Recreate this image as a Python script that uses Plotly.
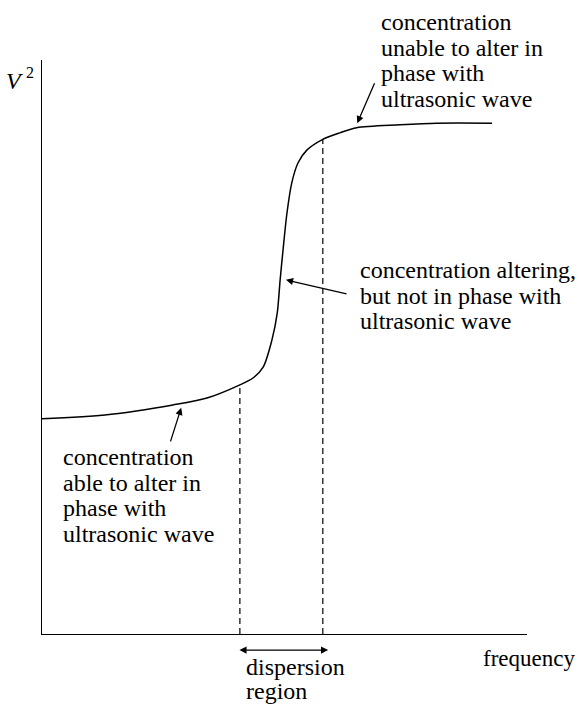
import plotly.graph_objects as go

# curve (frequency vs V^2, arbitrary units 0-100)
freq = [0, 13.4, 27.0, 34.0, 40.8, 43.5, 45.6, 47.4, 48.5, 49.1, 49.7, 50.5,
        51.5, 52.8, 54.6, 57.7, 61.4, 64.9, 73.8, 81.4, 92.8]
v_sq = [37.5, 38.2, 39.9, 41.1, 43.4, 44.6, 46.5, 51.2, 55.9, 61.7, 66.9, 73.3,
        78.6, 82.1, 84.3, 86.1, 87.3, 88.2, 88.7, 89.0, 89.0]

# edges of the dispersion region
disp_low = 40.8
disp_high = 57.9

label_font = "Liberation Serif, Times New Roman, serif"

top_lines = ["concentration", "unable to alter in", "phase with", "ultrasonic wave"]
mid_lines = ["concentration altering,", "but not in phase with", "ultrasonic wave"]
low_lines = ["concentration", "able to alter in", "phase with", "ultrasonic wave"]

# plot area in pixels
PLOT_W = 485
PLOT_H = 574


def curve_at(x):
    for i in range(len(freq) - 1):
        if freq[i] <= x <= freq[i + 1]:
            t = (x - freq[i]) / (freq[i + 1] - freq[i])
            return v_sq[i] + t * (v_sq[i + 1] - v_sq[i])
    return v_sq[-1]


def add_label(fig, text, x, y, anchor="left", size=24):
    # x, y in the same 0-100 units as the axes, but paper-referenced so
    # labels outside the plot area are still drawn
    fig.add_annotation(x=x / 100, y=y / 100, xref="paper", yref="paper",
                       text=text, showarrow=False, xanchor=anchor,
                       yanchor="middle",
                       font=dict(size=size, color="black", family=label_font))


def add_text_block(fig, lines, x, y_top, step=4.45):
    for i, line in enumerate(lines):
        add_label(fig, line, x, y_top - i * step)


def add_pointer(fig, tip, tail, both=False):
    fig.add_annotation(x=tip[0] / 100, y=tip[1] / 100, xref="paper", yref="paper",
                       ax=(tail[0] - tip[0]) / 100 * PLOT_W,
                       ay=-(tail[1] - tip[1]) / 100 * PLOT_H,
                       axref="pixel", ayref="pixel", text="", showarrow=True,
                       arrowhead=2, startarrowhead=2,
                       arrowside="end+start" if both else "end",
                       arrowsize=1.1, arrowwidth=1.3, arrowcolor="black")


fig = go.Figure()
fig.add_trace(go.Scatter(x=freq, y=v_sq, mode="lines",
                         line=dict(color="black", width=1.5, shape="spline",
                                   smoothing=0.8)))
for xd in [disp_low, disp_high]:
    fig.add_trace(go.Scatter(x=[xd, xd], y=[0, curve_at(xd)], mode="lines",
                             line=dict(color="black", width=1.2,
                                       dash="6px,4px")))

add_text_block(fig, top_lines, 69.5, 106.6)
add_text_block(fig, mid_lines, 65.2, 63.4)
add_text_block(fig, low_lines, 4.0, 30.8)

add_pointer(fig, (65.0, 89.0), (68.7, 96.2))
add_pointer(fig, (50.3, 61.7), (63.1, 59.2))
add_pointer(fig, (28.7, 39.4), (26.4, 33.3))

# double-headed arrow under the dispersion region
add_pointer(fig, (59.0, -2.8), (40.4, -2.8), both=True)
add_label(fig, "dispersion", 41.7, -5.8)
add_label(fig, "region", 41.7, -9.9)
add_label(fig, "frequency", 90.5, -4.2, size=23)

# axis label V^2 (V italic, raised 2)
add_label(fig, "<i>V</i>", -3.6, 96.4, anchor="right")
add_label(fig, "2", -3.8, 97.8, size=16)

fig.update_layout(
    width=579,
    height=704,
    margin=dict(l=42, r=579 - 42 - PLOT_W, t=60, b=704 - 60 - PLOT_H),
    showlegend=False,
    paper_bgcolor="white",
    plot_bgcolor="white",
    xaxis=dict(range=[0, 100], showgrid=False, zeroline=False,
               showticklabels=False, ticks="", showline=True,
               linecolor="black", linewidth=1.2, fixedrange=True),
    yaxis=dict(range=[0, 100], showgrid=False, zeroline=False,
               showticklabels=False, ticks="", showline=True,
               linecolor="black", linewidth=1.2, fixedrange=True),
)

# drop the default body margin so the figure fills the window exactly
fig.write_html("out.html", config={"displayModeBar": False},
               post_script="document.body.style.margin = '0';")
